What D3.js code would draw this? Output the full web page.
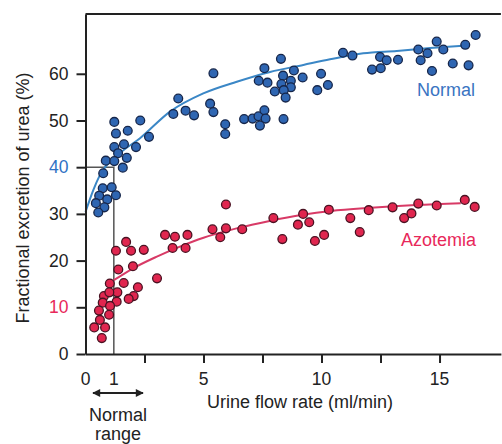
<!DOCTYPE html>
<html>
<head>
<meta charset="utf-8">
<script src="https://cdn.jsdelivr.net/npm/d3@7"></script>
<style>
  body { margin: 0; background: #fff; }
  svg { display: block; font-family: "Liberation Sans", Arial, sans-serif; }
</style>
</head>
<body>
<svg id="chart" width="502" height="444"></svg>
<script>
// urine flow (ml/min) vs fractional excretion of urea (%)
var normalFlow = [1.22, 2.32, 1.29, 1.79, 2.69, 1.22, 1.63, 2.14, 1.38, 1.75, 0.86, 1.22, 1.58, 0.75,
    0.73, 1.11, 0.58, 0.92, 1.29, 0.44, 0.80, 0.54, 3.72, 3.93, 4.24, 4.60, 5.42, 5.28, 5.42, 5.92,
    5.92, 6.72, 7.08, 7.33, 7.58, 7.63, 7.39, 8.39, 7.58, 8.28, 7.34, 7.71, 8.37, 8.83, 9.20, 8.30,
    8.70, 8.70, 8.02, 8.40, 8.48, 9.98, 9.82, 10.27, 10.91, 11.31, 12.48, 12.76, 13.24, 12.14, 12.51,
    14.10, 14.20, 14.49, 14.88, 15.16, 14.68, 15.56, 16.09, 16.23, 16.53];
var normalFeu = [49.7, 50.0, 47.2, 47.8, 46.5, 44.3, 44.9, 44.3, 43.0, 42.0, 41.4, 41.3, 39.9, 38.7,
    35.5, 35.7, 33.9, 33.1, 34.0, 32.3, 31.4, 30.3, 51.4, 54.7, 52.1, 51.1, 60.1, 53.6, 51.8, 49.2,
    47.1, 50.3, 50.4, 50.9, 52.2, 50.4, 48.9, 50.3, 61.2, 63.2, 58.5, 58.1, 59.6, 60.7, 59.2, 57.8,
    58.5, 57.1, 56.2, 56.5, 54.9, 60.0, 56.5, 57.6, 64.5, 63.9, 63.6, 62.9, 63.0, 60.9, 61.2,
    65.2, 62.9, 64.4, 66.9, 65.2, 60.6, 62.2, 66.2, 61.8, 68.3];

var azoFlow = [3.37, 1.72, 1.29, 1.93, 2.47, 1.39, 2.01, 3.03, 1.03, 1.62, 2.22, 2.04, 1.83, 0.78,
    1.35, 1.01, 0.73, 1.32, 1.04, 0.57, 1.00, 0.61, 0.37, 0.83, 0.69, 3.79, 3.69, 4.32, 4.24, 5.38,
    5.71, 5.95, 5.95, 6.64, 7.96, 8.34, 9.00, 9.22, 9.48, 9.72, 10.11, 10.31, 11.22, 11.62, 12.00,
    13.01, 13.50, 13.81, 14.10, 14.88, 16.07, 16.49];
var azoFeu = [25.5, 24.0, 22.1, 22.1, 22.3, 18.1, 18.8, 16.2, 15.1, 15.2, 14.3, 12.4, 11.8, 12.4,
    13.2, 13.2, 11.0, 11.2, 10.3, 9.3, 8.4, 7.3, 5.7, 5.7, 3.4, 25.1, 22.7, 25.5, 22.7, 26.7,
    25.0, 26.9, 32.0, 26.7, 29.1, 24.6, 27.7, 30.0, 28.2, 24.2, 25.5, 30.9, 29.1, 26.1, 30.8,
    31.4, 29.1, 30.1, 32.2, 31.8, 33.0, 31.5];

// fitted curves
var normalFitX = [0, 0.33, 0.61, 1.46, 2.31, 3.58, 4.99, 6.41, 7.82, 9.23, 10.36, 11.77, 13.19, 14.60, 16.01];
var normalFitY = [30.4, 35.1, 38.3, 43.0, 46.2, 51.9, 55.8, 58.3, 60.4, 61.9, 63.1, 64.4, 64.9, 65.5, 66.0];
var azoFitX = [1.2, 2.0, 3.0, 4.0, 5.0, 6.4, 7.8, 9.2, 10.4, 12.1, 14.0, 15.9];
var azoFitY = [15.8, 18.3, 20.8, 23.0, 24.9, 26.9, 28.5, 29.8, 30.6, 31.3, 31.9, 32.3];

var yTicks = [0, 10, 20, 30, 40, 50, 60];
var xTickMarks = [2.5, 5, 7.5, 10, 12.5, 15];
var xTickLabels = [0, 1.2, 5, 10, 15];
var xTickText = ["0", "1", "5", "10", "15"];
var normalRange = [0, 1.2];
var normalRangeFeu = 40;

var blue = "#2f66b2", red = "#e0264f";

var svg = d3.select("#chart");
var x = d3.scaleLinear().domain([0, 17.6]).range([85.5, 500.9]);
var y = d3.scaleLinear().domain([0, 72.8]).range([354, 14]);

// normal range box
svg.append("path")
    .attr("d", "M" + x(0) + "," + y(normalRangeFeu) + "H" + x(normalRange[1]) + "V" + y(0))
    .attr("fill", "none")
    .attr("stroke", "#555")
    .attr("stroke-width", 1.5);

// fit lines
var line = d3.line().curve(d3.curveMonotoneX)
    .x(function(d) { return x(d[0]); })
    .y(function(d) { return y(d[1]); });

svg.append("path")
    .attr("d", line(d3.zip(normalFitX, normalFitY)))
    .attr("fill", "none").attr("stroke", "#3b87c6").attr("stroke-width", 2);
svg.append("path")
    .attr("d", line(d3.zip(azoFitX, azoFitY)))
    .attr("fill", "none").attr("stroke", "#d83a66").attr("stroke-width", 2);

// axes
var yAxis = d3.axisLeft(y).tickValues(yTicks).tickSize(9).tickSizeOuter(0).tickPadding(8);
var gy = svg.append("g").attr("transform", "translate(" + x(0) + ",0)").call(yAxis);
var xAxis = d3.axisBottom(x).tickValues(xTickMarks).tickSize(9).tickSizeOuter(0).tickFormat("");
var gx = svg.append("g").attr("transform", "translate(0," + y(0) + ")").call(xAxis);

[gx, gy].forEach(function(g) {
    g.selectAll("path, line").attr("stroke", "#222").attr("stroke-width", 2);
    g.selectAll("text").attr("font-size", 17.5).attr("fill", "#222")
        .attr("font-family", "Liberation Sans, Arial, sans-serif");
});
gy.selectAll(".tick text").attr("fill", function(d) {
    return d === 40 ? "#2f72c4" : d === 10 ? "#e8285a" : "#222";
});

svg.append("line")
    .attr("x1", x.range()[0]).attr("x2", x.range()[1])
    .attr("y1", y.range()[1]).attr("y2", y.range()[1])
    .attr("stroke", "#222").attr("stroke-width", 2);

svg.selectAll(".xlab").data(xTickLabels).enter().append("text")
    .attr("class", "xlab")
    .attr("x", function(d) { return x(d); })
    .attr("y", 385)
    .attr("text-anchor", "middle")
    .attr("font-size", 17.5).attr("fill", "#222")
    .text(function(d, i) { return xTickText[i]; });

// points
function dots(xs, ys, fill, stroke) {
    svg.append("g").selectAll("circle")
        .data(d3.zip(xs, ys))
        .enter().append("circle")
        .attr("cx", function(d) { return x(d[0]); })
        .attr("cy", function(d) { return y(d[1]); })
        .attr("r", 4.4)
        .attr("fill", fill)
        .attr("stroke", stroke)
        .attr("stroke-width", 1.3);
}
dots(normalFlow, normalFeu, blue, "#16264a");
dots(azoFlow, azoFeu, red, "#4a1222");

// series labels
svg.append("text").attr("x", 475).attr("y", 96).attr("text-anchor", "end")
    .attr("font-size", 18).attr("fill", "#3a74c2").text("Normal");
svg.append("text").attr("x", 476).attr("y", 246).attr("text-anchor", "end")
    .attr("font-size", 18).attr("fill", "#e8285a").text("Azotemia");

// axis titles
svg.append("text").attr("x", 300).attr("y", 408).attr("text-anchor", "middle")
    .attr("font-size", 18).attr("fill", "#222").text("Urine flow rate (ml/min)");
svg.append("text").attr("transform", "translate(29,198) rotate(-90)")
    .attr("text-anchor", "middle")
    .attr("font-size", 18).attr("fill", "#222").text("Fractional excretion of urea (%)");

// normal range arrow
var defs = svg.append("defs");
defs.append("marker").attr("id", "head")
    .attr("viewBox", "0 0 10 10").attr("refX", 9).attr("refY", 5)
    .attr("markerWidth", 5).attr("markerHeight", 4).attr("orient", "auto-start-reverse")
    .append("path").attr("d", "M0,0L10,5L0,10z").attr("fill", "#222");
svg.append("line")
    .attr("x1", 93).attr("x2", 143).attr("y1", 393).attr("y2", 393)
    .attr("stroke", "#222").attr("stroke-width", 2)
    .attr("marker-start", "url(#head)").attr("marker-end", "url(#head)");
svg.append("text").attr("x", 118).attr("y", 421).attr("text-anchor", "middle")
    .attr("font-size", 18).attr("fill", "#222").text("Normal");
svg.append("text").attr("x", 118).attr("y", 440).attr("text-anchor", "middle")
    .attr("font-size", 18).attr("fill", "#222").text("range");
</script>
</body>
</html>
